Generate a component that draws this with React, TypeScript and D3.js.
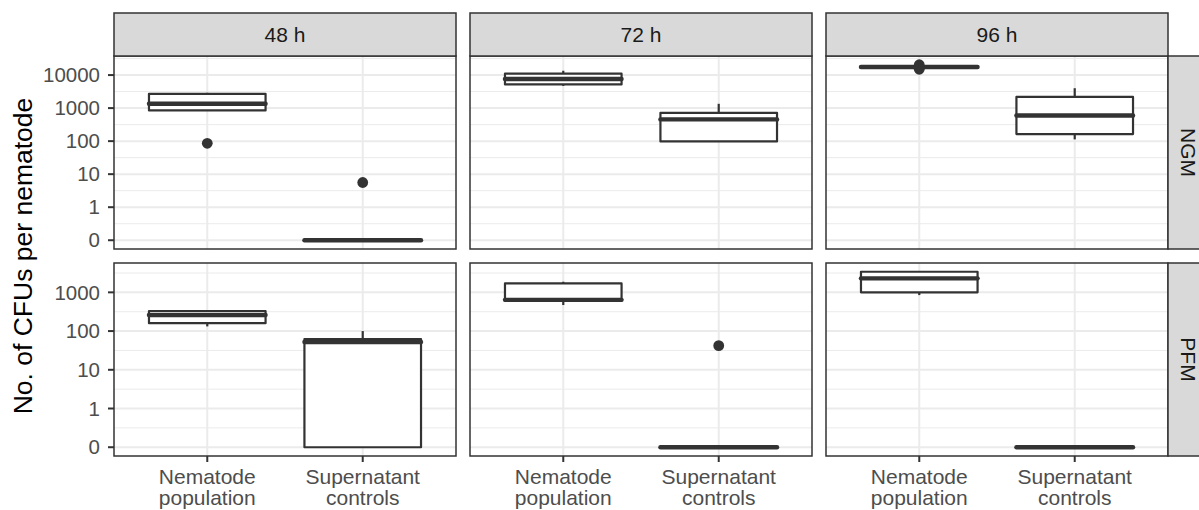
import React, { useEffect, useRef } from "react";
import * as d3 from "d3";

const times = ["48 h", "72 h", "96 h"];
const media = ["NGM", "PFM"];
const groups = ["Nematode population", "Supernatant controls"];
const groupLines = [
  ["Nematode", "population"],
  ["Supernatant", "controls"],
];

// box stats, one entry per panel and group
// order: NGM 48h, 72h, 96h then PFM 48h, 72h, 96h; nematode before supernatant
const whiskerLow = [850, 0, 4700, 98, 17500, 113, 132, 0, 470, 0, 850, 0];
const q1 = [850, 0, 5200, 98, 17500, 163, 160, 0, 605, 0, 1000, 0];
const median = [1350, 0, 7600, 455, 17500, 600, 260, 52, 640, 0, 2300, 0];
const q3 = [2700, 0, 11000, 720, 17500, 2180, 330, 62, 1700, 0, 3400, 0];
const whiskerHigh = [2900, 0, 13500, 1350, 17500, 4000, 330, 100, 1880, 0, 3400, 0];
const outliers = [[86], [5.6], [], [], [20500, 15000], [], [], [], [], [42], [], []];

const yTicks = [0, 1, 10, 100, 1000, 10000];

const toLog = (v) => (v <= 0 ? -1 : Math.log10(v));

const App = () => {
  const svgRef = useRef(null);

  useEffect(() => {
    const width = 1199;
    const height = 510;
    const panelLeft = 114;
    const panelW = 342;
    const gapX = 14;
    const stripTop = 13;
    const stripH = 43;
    const rowTops = [56, 263];
    const panelH = 193;
    const font = "'Liberation Sans', Arial, Helvetica, sans-serif";
    const dark = "#333333";
    const grid = "#EBEBEB";
    const lw = 2.2;

    const svg = d3.select(svgRef.current);
    svg.selectAll("*").remove();
    svg.attr("width", width).attr("height", height).style("font-family", font);

    svg.append("rect").attr("width", width).attr("height", height).attr("fill", "white");

    media.forEach((m, r) => {
      // free y per row with 5% expansion
      const vals = [];
      times.forEach((t, c) => {
        groups.forEach((g, k) => {
          const i = (r * times.length + c) * groups.length + k;
          vals.push(toLog(whiskerLow[i]), toLog(whiskerHigh[i]));
          outliers[i].forEach((o) => vals.push(toLog(o)));
        });
      });
      const [lo, hi] = d3.extent(vals);
      const pad = (hi - lo) * 0.05;
      const top = rowTops[r];
      const y = d3
        .scaleLinear()
        .domain([lo - pad, hi + pad])
        .range([top + panelH, top]);
      const [d0, d1] = y.domain();
      const majors = yTicks.filter((v) => toLog(v) >= d0 && toLog(v) <= d1);
      const minors = d3.range(-2, 6).map((v) => v + 0.5).filter((v) => v >= d0 && v <= d1);

      times.forEach((t, c) => {
        const px = panelLeft + c * (panelW + gapX);
        const x = d3.scalePoint().domain(groups).range([px, px + panelW]).padding(0.6);
        const boxW = x.step() * 0.75;
        const g = svg.append("g");

        g.append("rect")
          .attr("x", px)
          .attr("y", top)
          .attr("width", panelW)
          .attr("height", panelH)
          .attr("fill", "white");

        g.selectAll(".minor")
          .data(minors)
          .enter()
          .append("line")
          .attr("x1", px)
          .attr("x2", px + panelW)
          .attr("y1", (d) => y(d))
          .attr("y2", (d) => y(d))
          .attr("stroke", grid)
          .attr("stroke-width", 1);

        g.selectAll(".major")
          .data(majors)
          .enter()
          .append("line")
          .attr("x1", px)
          .attr("x2", px + panelW)
          .attr("y1", (d) => y(toLog(d)))
          .attr("y2", (d) => y(toLog(d)))
          .attr("stroke", grid)
          .attr("stroke-width", 2);

        g.selectAll(".vmajor")
          .data(groups)
          .enter()
          .append("line")
          .attr("x1", (d) => x(d))
          .attr("x2", (d) => x(d))
          .attr("y1", top)
          .attr("y2", top + panelH)
          .attr("stroke", grid)
          .attr("stroke-width", 2);

        groups.forEach((gr, k) => {
          const i = (r * times.length + c) * groups.length + k;
          const cx = x(gr);
          g.append("line")
            .attr("x1", cx)
            .attr("x2", cx)
            .attr("y1", y(toLog(q3[i])))
            .attr("y2", y(toLog(whiskerHigh[i])))
            .attr("stroke", dark)
            .attr("stroke-width", lw);
          g.append("line")
            .attr("x1", cx)
            .attr("x2", cx)
            .attr("y1", y(toLog(q1[i])))
            .attr("y2", y(toLog(whiskerLow[i])))
            .attr("stroke", dark)
            .attr("stroke-width", lw);
          g.append("rect")
            .attr("x", cx - boxW / 2)
            .attr("y", y(toLog(q3[i])))
            .attr("width", boxW)
            .attr("height", y(toLog(q1[i])) - y(toLog(q3[i])))
            .attr("fill", "white")
            .attr("stroke", dark)
            .attr("stroke-width", lw)
            .attr("stroke-linejoin", "round");
          g.append("line")
            .attr("x1", cx - boxW / 2)
            .attr("x2", cx + boxW / 2)
            .attr("y1", y(toLog(median[i])))
            .attr("y2", y(toLog(median[i])))
            .attr("stroke", dark)
            .attr("stroke-width", lw * 2)
            .attr("stroke-linecap", "round");
          g.selectAll(".out" + k)
            .data(outliers[i])
            .enter()
            .append("circle")
            .attr("cx", cx)
            .attr("cy", (d) => y(toLog(d)))
            .attr("r", 5.4)
            .attr("fill", dark);
        });

        g.append("rect")
          .attr("x", px)
          .attr("y", top)
          .attr("width", panelW)
          .attr("height", panelH)
          .attr("fill", "none")
          .attr("stroke", dark)
          .attr("stroke-width", 1.5);

        // top strips
        if (r === 0) {
          svg.append("rect")
            .attr("x", px)
            .attr("y", stripTop)
            .attr("width", panelW)
            .attr("height", stripH)
            .attr("fill", "#D9D9D9")
            .attr("stroke", dark)
            .attr("stroke-width", 1.5);
          svg.append("text")
            .attr("x", px + panelW / 2)
            .attr("y", stripTop + stripH / 2)
            .attr("dy", "0.35em")
            .attr("text-anchor", "middle")
            .style("font-size", "21px")
            .style("fill", "#1A1A1A")
            .text(t);
        }

        // bottom axis
        if (r === media.length - 1) {
          groups.forEach((gr, k) => {
            svg.append("line")
              .attr("x1", x(gr))
              .attr("x2", x(gr))
              .attr("y1", top + panelH)
              .attr("y2", top + panelH + 6)
              .attr("stroke", dark)
              .attr("stroke-width", 2);
            svg.append("text")
              .attr("x", x(gr))
              .attr("y", top + panelH + 28)
              .attr("text-anchor", "middle")
              .style("font-size", "21px")
              .style("fill", "#4D4D4D")
              .selectAll("tspan")
              .data(groupLines[k])
              .enter()
              .append("tspan")
              .attr("x", x(gr))
              .attr("dy", (d, li) => (li === 0 ? 0 : 21))
              .text((d) => d);
          });
        }

        // left axis
        if (c === 0) {
          majors.forEach((v) => {
            svg.append("line")
              .attr("x1", px - 6)
              .attr("x2", px)
              .attr("y1", y(toLog(v)))
              .attr("y2", y(toLog(v)))
              .attr("stroke", dark)
              .attr("stroke-width", 2);
            svg.append("text")
              .attr("x", px - 14)
              .attr("y", y(toLog(v)))
              .attr("dy", "0.35em")
              .attr("text-anchor", "end")
              .style("font-size", "20.5px")
              .style("fill", "#4D4D4D")
              .text(v);
          });
        }
      });

      // right strips (cut by the picture edge, as in the original)
      const sx = panelLeft + times.length * panelW + (times.length - 1) * gapX;
      svg.append("rect")
        .attr("x", sx)
        .attr("y", top)
        .attr("width", stripH)
        .attr("height", panelH)
        .attr("fill", "#D9D9D9")
        .attr("stroke", dark)
        .attr("stroke-width", 1.5);
      svg.append("text")
        .attr("transform", `translate(${sx + 20}, ${top + panelH / 2}) rotate(90)`)
        .attr("dy", "0.35em")
        .attr("text-anchor", "middle")
        .style("font-size", "21px")
        .style("fill", "#1A1A1A")
        .text(m);
    });

    svg.append("text")
      .attr("transform", `translate(32, ${(rowTops[0] + rowTops[1] + panelH) / 2}) rotate(-90)`)
      .attr("text-anchor", "middle")
      .style("font-size", "26.5px")
      .style("fill", "black")
      .text("No. of CFUs per nematode");
  }, []);

  return (
    <div style={{ position: "absolute", left: 0, top: 0 }}>
      <svg ref={svgRef} style={{ display: "block" }}></svg>
    </div>
  );
};

export default App;
